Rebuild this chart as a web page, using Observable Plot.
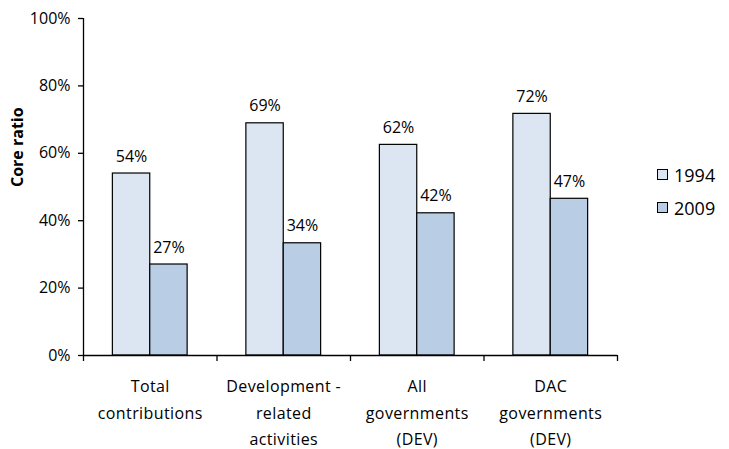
<!DOCTYPE html>
<html>
<head>
<meta charset="utf-8">
<script src="https://cdn.jsdelivr.net/npm/d3@7"></script>
<script src="https://cdn.jsdelivr.net/npm/@observablehq/plot@0.6"></script>
<style>
  body { margin: 0; background: #fff; }
  #wrap { position: relative; width: 729px; height: 449px; font-family: "Open Sans", sans-serif; }
  #legend { position: absolute; left: 657px; top: 158px; font-size: 18px; color: #000; }
  .item { display: flex; align-items: center; height: 33px; }
  .sw { width: 11px; height: 11px; border: 1px solid #000; margin-right: 6px; box-sizing: border-box; }
  .catlabel text { letter-spacing: 0.4px; }
</style>
</head>
<body>
<div id="wrap"></div>
<script>
const categories = ["Total\ncontributions", "Development -\nrelated\nactivities", "All\ngovernments\n(DEV)", "DAC\ngovernments\n(DEV)"];
const years = ["1994", "2009"];
const values1994 = [0.54, 0.689, 0.625, 0.717];
const values2009 = [0.27, 0.333, 0.422, 0.465];
const labels1994 = ["54%", "69%", "62%", "72%"];
const labels2009 = ["27%", "34%", "42%", "47%"];
const colors = ["#dce6f2", "#b9cde5"];
const yTicks = [0, 0.2, 0.4, 0.6, 0.8, 1.0];

const rows = [];
categories.forEach((c, i) => {
  rows.push({i, cat: c, year: years[0], value: values1994[i], label: labels1994[i], x1: i + 0.22, x2: i + 0.5});
  rows.push({i, cat: c, year: years[1], value: values2009[i], label: labels2009[i], x1: i + 0.5, x2: i + 0.78});
});
const cats = categories.map((c, i) => ({c, i}));
const boundaries = d3.range(categories.length + 1);

const font = "Open Sans, sans-serif";
const chart = Plot.plot({
  width: 729,
  height: 449,
  marginLeft: 83,
  marginRight: 112,
  marginTop: 18,
  marginBottom: 94,
  style: {fontFamily: font, fontSize: "16px", color: "#000", background: "#fff"},
  x: {type: "linear", domain: [0, categories.length], axis: null},
  y: {type: "linear", domain: [0, 1], axis: null},
  color: {domain: years, range: colors},
  marks: [
    Plot.rectY(rows, {x1: "x1", x2: "x2", y1: 0, y2: "value", fill: "year", stroke: "#000", strokeWidth: 1.2}),
    Plot.text(rows, {x: d => (d.x1 + d.x2) / 2, y: "value", text: "label", lineAnchor: "bottom", dy: -12, fontSize: 16, fill: "#000"}),
    Plot.axisY({ticks: yTicks, tickFormat: d3.format(".0%"), tickSize: 5, tickPadding: 8, fontSize: 16, strokeWidth: 1.3, stroke: "#000", label: null}),
    Plot.ruleX([0], {y1: 0, y2: 1, stroke: "#000", strokeWidth: 1.3}),
    Plot.ruleY([0], {x1: 0, x2: categories.length, stroke: "#000", strokeWidth: 1.3}),
    Plot.ruleX(boundaries, {x: d => d, y1: 0, y2: 0, insetBottom: -6, stroke: "#000", strokeWidth: 1.3}),
    Plot.text(cats, {x: d => d.i + 0.5, y: 0, text: "c", lineAnchor: "top", dy: 18, lineHeight: 1.65, fontSize: 16, fill: "#000", className: "catlabel"}),
    Plot.text(["Core ratio"], {frameAnchor: "left", dx: -66, rotate: -90, fontWeight: "bold", fontSize: 16, fill: "#000"})
  ]
});

const wrap = document.getElementById("wrap");
wrap.appendChild(chart);
const legend = document.createElement("div");
legend.id = "legend";
years.forEach((y, k) => {
  const item = document.createElement("div");
  item.className = "item";
  const sw = document.createElement("span");
  sw.className = "sw";
  sw.style.background = colors[k];
  const t = document.createElement("span");
  t.textContent = y;
  item.appendChild(sw);
  item.appendChild(t);
  legend.appendChild(item);
});
wrap.appendChild(legend);
</script>
</body>
</html>
